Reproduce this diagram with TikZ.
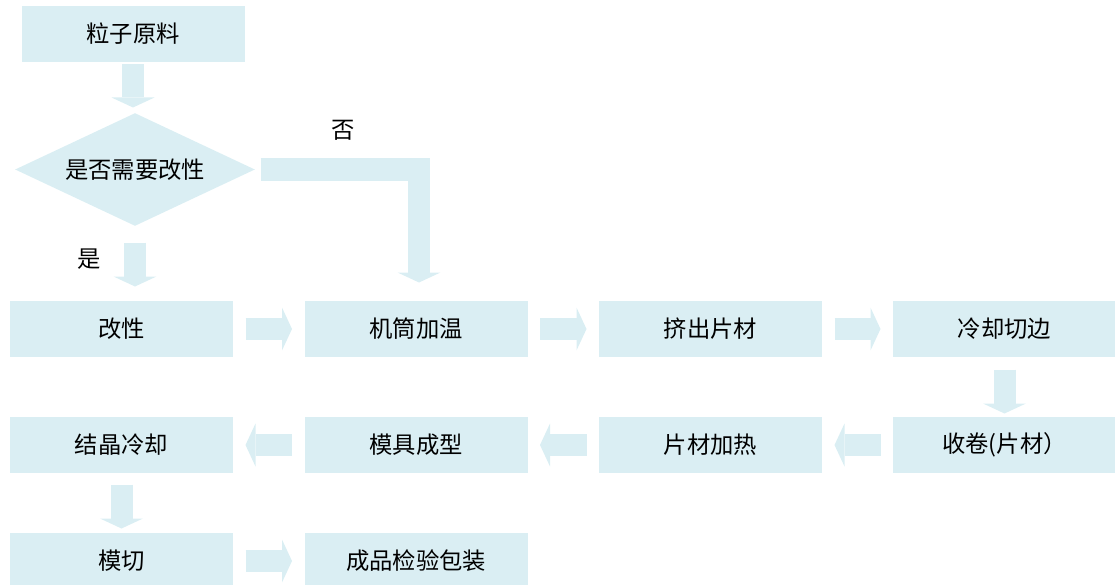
\documentclass[tikz,border=0pt]{standalone}
\usepackage{fontspec}
\newfontfamily\cjk{Noto Sans CJK SC}
\usetikzlibrary{shapes.geometric,arrows.meta}
\definecolor{boxblue}{RGB}{218,238,243}

\tikzset{every picture/.style={line width=0.75pt}}
\tikzset{
  cjktext/.style={font=\cjk\fontsize{17.5}{20}\selectfont},
  stepbox/.style={cjktext, fill=boxblue, minimum width=167.25pt, minimum height=42pt, inner sep=0pt},
  choice/.style={cjktext, diamond, aspect=2.12, fill=boxblue, minimum width=180pt, minimum height=84.75pt, inner sep=0pt},
  flow/.style={draw=boxblue, line width=16.5pt, line cap=butt, line join=miter, -{Triangle[width=32.25pt,length=7.5pt,line width=0pt]}},
  lbl/.style={cjktext, inner sep=0.75pt}
}

\begin{document}
\begin{tikzpicture}[x=0.75pt,y=0.75pt,yscale=-1,xscale=1]
\useasboundingbox (0,0) rectangle (1115,585);
%Shape: Rectangle [id:raw] 
\node[stepbox] (raw) at (133,34) {粒子原料};
%Shape: Diamond [id:decide] 
\node[choice] (decide) at (135,169.5) {是否需要改性};
%Shape: Rectangle row 1 
\node[stepbox] (mod) at (121.5,329) {改性};
\node[stepbox] (heat) at (416,329) {机筒加温};
\node[stepbox] (extrude) at (710.5,329) {挤出片材};
\node[stepbox] (cool) at (1004.5,329) {冷却切边};
%Shape: Rectangle row 2 
\node[stepbox] (roll) at (1004.5,445) {收卷(片材）};
\node[stepbox] (reheat) at (710.5,445) {片材加热};
\node[stepbox] (mould) at (416,445) {模具成型};
\node[stepbox] (cryst) at (121.5,445) {结晶冷却};
%Shape: Rectangle row 3 
\node[stepbox] (diecut) at (121.5,561) {模切};
\node[stepbox] (pack) at (416,561) {成品检验包装};
% Text Node
\node[lbl] (no) at (343,130) {否};
% Text Node
\node[lbl] (yes) at (89,259) {是};

%Shape: Down Arrow 
\draw[flow, shorten <=1.5pt, shorten >=3.75pt] (raw.south) -- (raw.south |- decide.north);
\draw[flow, shorten <=12pt, shorten >=10.5pt] (decide.south) -- (decide.south |- mod.north);
\draw[flow, shorten <=3.75pt, shorten >=13.5pt] (decide.east) -| ([xshift=2.25pt]heat.north);
\draw[flow, shorten <=9pt, shorten >=2.25pt] (cool.south) -- (roll.north);
\draw[flow, shorten <=8.25pt, shorten >=3pt] (cryst.south) -- (diecut.north);
%Shape: Right Arrow 
\draw[flow, shorten <=9pt, shorten >=9pt] (mod.east) -- (heat.west);
\draw[flow, shorten <=9pt, shorten >=9pt] (heat.east) -- (extrude.west);
\draw[flow, shorten <=9pt, shorten >=9pt] (extrude.east) -- (cool.west);
\draw[flow, shorten <=9pt, shorten >=9pt] (diecut.east) -- (pack.west);
%Shape: Left Arrow 
\draw[flow, shorten <=9pt, shorten >=9pt] (roll.west) -- (reheat.east);
\draw[flow, shorten <=9pt, shorten >=9pt] (reheat.west) -- (mould.east);
\draw[flow, shorten <=9pt, shorten >=9pt] (mould.west) -- (cryst.east);
\end{tikzpicture}
\end{document}
